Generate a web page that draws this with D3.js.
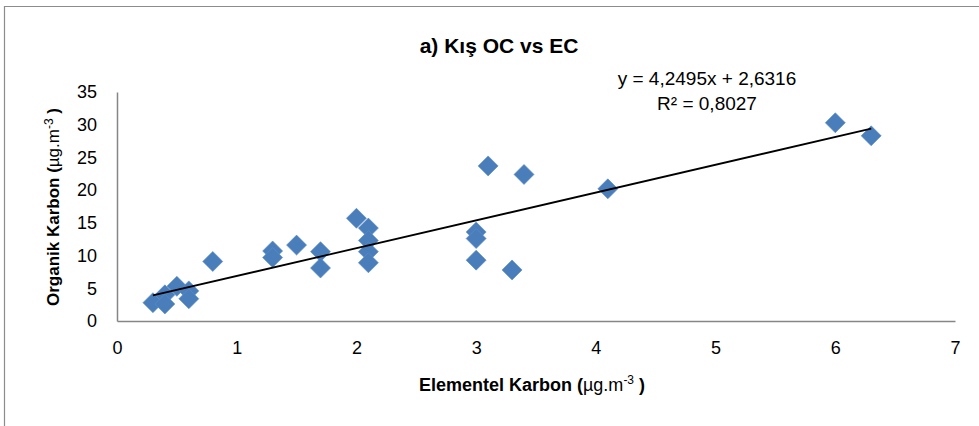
<!DOCTYPE html>
<html>
<head>
<meta charset="utf-8">
<script src="https://cdn.jsdelivr.net/npm/d3@7"></script>
<style>
    body { margin: 0; background: #fff; }
    text { font-family: "Liberation Sans", Arial, sans-serif; fill: #000; }
</style>
</head>
<body>
<div id="chart"></div>
<script>
// Elementel Karbon (x) and Organik Karbon (y), winter samples
var ecValues = [0.3, 0.4, 0.4, 0.5, 0.6, 0.6, 0.8, 1.3, 1.3, 1.5, 1.7, 1.7,
                2.0, 2.1, 2.1, 2.1, 2.1, 3.0, 3.0, 3.0, 3.1, 3.3, 3.4, 4.1, 6.0, 6.3];
var ocValues = [2.8, 4.0, 2.6, 5.3, 4.6, 3.4, 9.1, 10.7, 9.7, 11.6, 10.6, 8.1,
                15.7, 14.2, 12.3, 10.6, 8.9, 13.6, 12.6, 9.3, 23.7, 7.8, 22.4, 20.2, 30.3, 28.3];
var xTicks = [0, 1, 2, 3, 4, 5, 6, 7];
var yTicks = [0, 5, 10, 15, 20, 25, 30, 35];
var slope = 4.2495;
var intercept = 2.6316;
var equationText = "y = 4,2495x + 2,6316";
var r2Text = "R² = 0,8027";

function chart() {
    var width = 979;
    var height = 426;

    var plotLeft = 117, plotRight = 955;
    var plotTop = 92, plotBottom = 321;

    var canvas = d3.select("#chart")
                    .append("svg")
                    .attr("width", width)
                    .attr("height", height);

    // chart area frame (only top and left edges are visible)
    canvas.append("path")
        .attr("d", "M4.5,426 L4.5,6.5 L979,6.5")
        .attr("fill", "none")
        .attr("stroke", "#8c8c8c")
        .attr("stroke-width", 1.2);

    var xScale = d3.scaleLinear()
                    .domain([0, 7])
                    .range([plotLeft, plotRight]);

    var yScale = d3.scaleLinear()
                    .domain([0, 35])
                    .range([plotBottom, plotTop]);

    var xAxis = d3.axisBottom(xScale)
                .tickValues(xTicks)
                .tickFormat(d3.format("d"))
                .tickSize(0)
                .tickPadding(20);

    var yAxis = d3.axisLeft(yScale)
                .tickValues(yTicks)
                .tickFormat(d3.format("d"))
                .tickSize(0)
                .tickPadding(20);

    var gx = canvas.append("g")
        .attr("transform", "translate(0, " + plotBottom + ")")
        .call(xAxis);

    var gy = canvas.append("g")
        .attr("transform", "translate(" + plotLeft + ", 0)")
        .call(yAxis);

    [gx, gy].forEach(function(g) {
        g.select(".domain").attr("stroke", "#868686").attr("stroke-width", 1.5);
        g.selectAll("text")
            .style("font-family", "Liberation Sans, Arial, sans-serif")
            .style("font-size", "18px")
            .attr("fill", "#000");
    });

    // data points as diamonds
    var diamond = d3.symbol().type(d3.symbolSquare).size(200);
    canvas.append("g")
        .selectAll("path")
        .data(ecValues)
        .enter()
        .append("path")
        .attr("d", diamond)
        .attr("transform", function(d, i) {
            return "translate(" + xScale(d) + "," + yScale(ocValues[i]) + ") rotate(45)";
        })
        .attr("fill", "#4a7ebb")
        .attr("stroke", "#5b8dc8")
        .attr("stroke-width", 0.6);

    // linear trend line
    var xMin = d3.min(ecValues), xMax = d3.max(ecValues);
    canvas.append("line")
        .attr("x1", xScale(xMin))
        .attr("y1", yScale(slope * xMin + intercept))
        .attr("x2", xScale(xMax))
        .attr("y2", yScale(slope * xMax + intercept))
        .attr("stroke", "#000")
        .attr("stroke-width", 1.8);

    // equation labels
    canvas.append("text")
        .attr("x", 707)
        .attr("y", 85)
        .attr("text-anchor", "middle")
        .style("font-size", "19px")
        .text(equationText);

    canvas.append("text")
        .attr("x", 707)
        .attr("y", 110)
        .attr("text-anchor", "middle")
        .style("font-size", "19px")
        .text(r2Text);

    // title
    canvas.append("text")
        .attr("x", 499)
        .attr("y", 53)
        .attr("text-anchor", "middle")
        .style("font-size", "21px")
        .style("font-weight", "bold")
        .text("a) Kış OC vs EC");

    // X axis label
    var xl = canvas.append("text")
        .attr("x", 532)
        .attr("y", 391)
        .attr("text-anchor", "middle")
        .style("font-size", "18px");
    xl.append("tspan").style("font-weight", "bold").text("Elementel Karbon ");
    xl.append("tspan").style("font-weight", "bold").text("(");
    xl.append("tspan").text("µg.m");
    xl.append("tspan").attr("dy", -7).style("font-size", "12px").text("-3");
    xl.append("tspan").attr("dy", 7).style("font-weight", "bold").text(" )");

    // Y axis label
    var yl = canvas.append("text")
        .attr("transform", "translate(59, 207) rotate(-90)")
        .attr("text-anchor", "middle")
        .style("font-size", "17px");
    yl.append("tspan").style("font-weight", "bold").text("Organik Karbon ");
    yl.append("tspan").style("font-weight", "bold").text("(");
    yl.append("tspan").text("µg.m");
    yl.append("tspan").attr("dy", -6).style("font-size", "12px").text("-3");
    yl.append("tspan").attr("dy", 6).style("font-weight", "bold").text(" )");
}

window.onload = chart;
</script>
</body>
</html>
